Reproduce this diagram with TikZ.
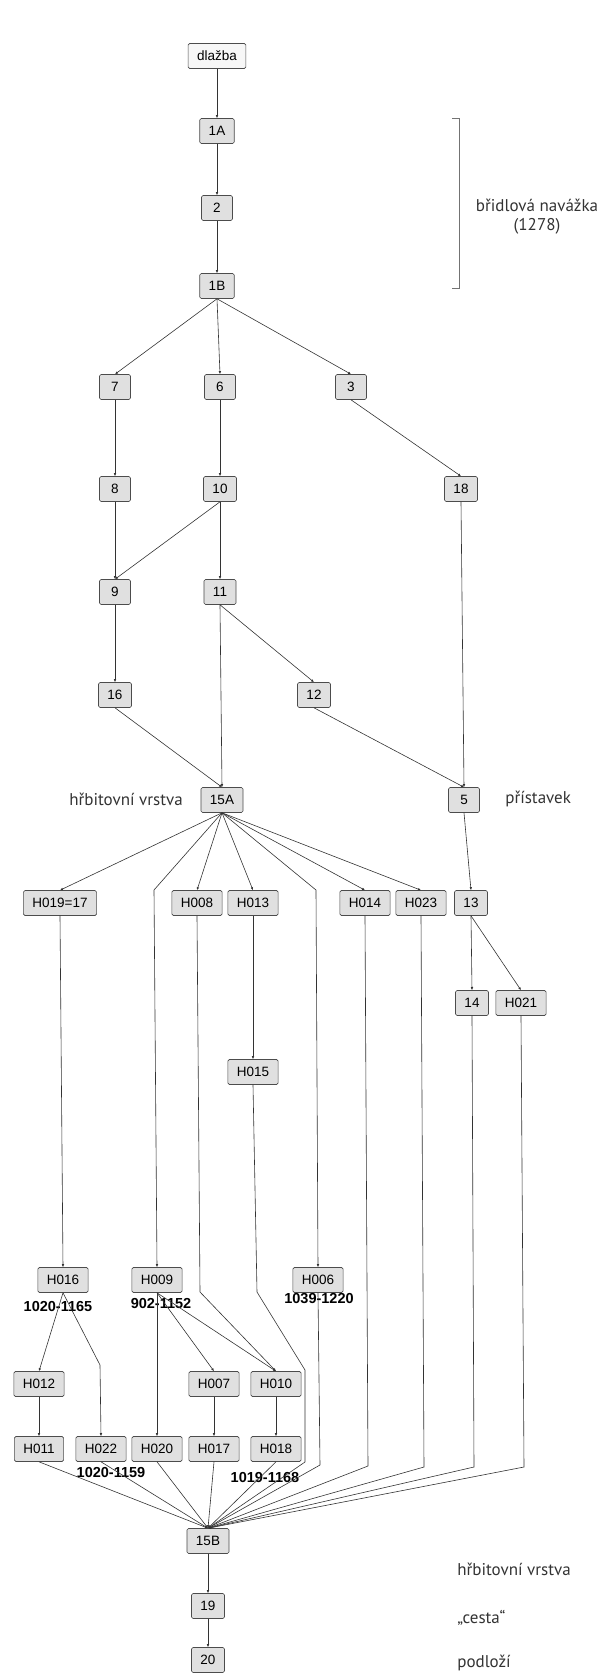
\documentclass[tikz,border=0pt]{standalone}
\usepackage{fontspec}
\setmainfont{Liberation Sans}
\newfontfamily\notefont{PT Sans}
\usetikzlibrary{arrows.meta}

\begin{document}
\begin{tikzpicture}[x=1pt, y=1pt, line width=0.6pt,
        unit/.style={draw=black!70, fill=black!12, rounded corners=1.5pt, minimum width=31pt, minimum height=25pt, inner xsep=9pt, inner ysep=2pt, font=\fontsize{13.5}{14}\selectfont},
        date/.style={inner sep=0pt, font=\fontsize{14.5}{15}\selectfont\bfseries},
        note/.style={inner sep=0pt, text=black!80, font=\fontsize{17}{19}\notefont},
        link/.style={draw=black!80, -{Latex[length=3pt,width=2.6pt]}}]
            \useasboundingbox (0,0) rectangle (605,-1674);
            \node[unit, fill=black!3] (dlazba) at (217,-56) {dlažba};
            \node[unit, below of=dlazba, node distance=75pt] (u1A) {1A};
            \node[unit, below of=u1A, node distance=77pt] (u2) {2};
            \node[unit, below of=u2, node distance=78pt] (u1B) {1B};
            \node[unit] (u7) at (115,-387) {7};
            \node[unit, right of=u7, node distance=105pt] (u6) {6};
            \node[unit, right of=u6, node distance=131pt] (u3) {3};
            \node[unit, below of=u7, node distance=102pt] (u8) {8};
            \node[unit, below of=u6, node distance=102pt] (u10) {10};
            \node[unit] (u18) at (461,-489) {18};
            \node[unit, below of=u8, node distance=103pt] (u9) {9};
            \node[unit, below of=u10, node distance=103pt] (u11) {11};
            \node[unit, below of=u9, node distance=103pt] (u16) {16};
            \node[unit] (u12) at (314,-695) {12};
            \node[unit] (u15A) at (222,-800) {15A};
            \node[unit] (u5) at (464,-800) {5};
            \node[note, anchor=east] (graveA) at (183,-799) {hřbitovní vrstva};
            \node[note, anchor=west] (annex) at (505,-799) {přístavek};
            \node[unit] (H019) at (60,-903) {H019=17};
            \node[unit] (H008) at (197,-903) {H008};
            \node[unit, right of=H008, node distance=56pt] (H013) {H013};
            \node[unit] (H014) at (365,-903) {H014};
            \node[unit, right of=H014, node distance=56pt] (H023) {H023};
            \node[unit] (u13) at (471,-903) {13};
            \node[unit] (u14) at (472,-1003) {14};
            \node[unit, right of=u14, node distance=49pt] (H021) {H021};
            \node[unit, below of=H013, node distance=169pt] (H015) {H015};
            \node[unit] (H016) at (63,-1280) {H016};
            \node[unit] (H009) at (157,-1280) {H009};
            \node[unit] (H006) at (318,-1280) {H006};
            \node[date] (dH016) at (58,-1306) {1020-1165};
            \node[date] (dH009) at (161,-1303) {902-1152};
            \node[date] (dH006) at (319,-1299) {1039-1220};
            \node[unit] (H012) at (39,-1384) {H012};
            \node[unit] (H007) at (214,-1384) {H007};
            \node[unit] (H010) at (276,-1384) {H010};
            \node[unit, below of=H012, node distance=65pt] (H011) {H011};
            \node[unit] (H022) at (101,-1449) {H022};
            \node[unit, below of=H009, node distance=169pt] (H020) {H020};
            \node[unit, below of=H007, node distance=65pt] (H017) {H017};
            \node[unit, below of=H010, node distance=65pt] (H018) {H018};
            \node[date] (dH022) at (111,-1472) {1020-1159};
            \node[date] (dH018) at (265,-1477) {1019-1168};
            \node[unit] (u15B) at (208,-1541) {15B};
            \node[unit, below of=u15B, node distance=65pt] (u19) {19};
            \node[unit, below of=u19, node distance=54pt] (u20) {20};
            \node[note, anchor=west] (graveB) at (457,-1569) {hřbitovní vrstva};
            \node[note, anchor=west] (road) at (457,-1618) {„cesta“};
            \node[note, anchor=west] (subsoil) at (457,-1663) {podloží};
            % slate fill bracket
            \draw[black!55] (452,-118) -- (459,-118) -- (459,-288) -- (452,-288);
            \node[note, align=center] (slate) at (537,-217) {břidlová navážka\\(1278)};
            \draw[link] (dlazba.south) -- (u1A.north);
            \draw[link] (u1A.south) -- (u2.north);
            \draw[link] (u2.south) -- (u1B.north);
            \draw[link] (u1B.south) -- (u7.north);
            \draw[link] (u1B.south) -- (u6.north);
            \draw[link] (u1B.south) -- (u3.north);
            \draw[link] (u7.south) -- (u8.north);
            \draw[link] (u6.south) -- (u10.north);
            \draw[link] (u3.south) -- (u18.north);
            \draw[link] (u8.south) -- (u9.north);
            \draw[link] (u10.south) -- (u9.north);
            \draw[link] (u10.south) -- (u11.north);
            \draw[link] (u9.south) -- (u16.north);
            \draw[link] (u11.south) -- (u15A.north);
            \draw[link] (u11.south) -- (u12.north);
            \draw[link] (u16.south) -- (u15A.north);
            \draw[link] (u12.south) -- (u5.north);
            \draw[link] (u18.south) -- (u5.north);
            \draw[link] (u15A.south) -- (H019.north);
            \draw[link] (u15A.south) -- (154,-890) -- (H009.north);
            \draw[link] (u15A.south) -- (H008.north);
            \draw[link] (u15A.south) -- (H013.north);
            \draw[link] (u15A.south) -- (316,-890) -- (H006.north);
            \draw[link] (u15A.south) -- (H014.north);
            \draw[link] (u15A.south) -- (H023.north);
            \draw[link] (u5.south) -- (u13.north);
            \draw[link] (u13.south) -- (u14.north);
            \draw[link] (u13.south) -- (H021.north);
            \draw[link] (H019.south) -- (H016.north);
            \draw[link] (H013.south) -- (H015.north);
            \draw[link] (H008.south) -- (200,-1292) -- (H010.north);
            \draw[link] (H016.south) -- (H012.north);
            \draw[link] (H016.south) -- (100,-1365) -- (H022.north);
            \draw[link] (H009.south) -- (H020.north);
            \draw[link] (H009.south) -- (H007.north);
            \draw[link] (H009.south) -- (H010.north);
            \draw[link] (H012.south) -- (H011.north);
            \draw[link] (H007.south) -- (H017.north);
            \draw[link] (H010.south) -- (H018.north);
            \draw[link] (H011.south) -- (u15B.north);
            \draw[link] (H022.south) -- (u15B.north);
            \draw[link] (H020.south) -- (u15B.north);
            \draw[link] (H017.south) -- (u15B.north);
            \draw[link] (H018.south) -- (u15B.north);
            \draw[link] (H015.south) -- (257,-1292) -- (305,-1370) -- (305,-1462) -- (u15B.north);
            \draw[link] (H006.south) -- (320,-1465) -- (u15B.north);
            \draw[link] (H014.south) -- (368,-1466) -- (u15B.north);
            \draw[link] (H023.south) -- (424,-1467) -- (u15B.north);
            \draw[link] (u14.south) -- (474,-1467) -- (u15B.north);
            \draw[link] (H021.south) -- (524,-1467) -- (u15B.north);
            \draw[link] (u15B.south) -- (u19.north);
            \draw[link] (u19.south) -- (u20.north);
        \end{tikzpicture}
\end{document}
